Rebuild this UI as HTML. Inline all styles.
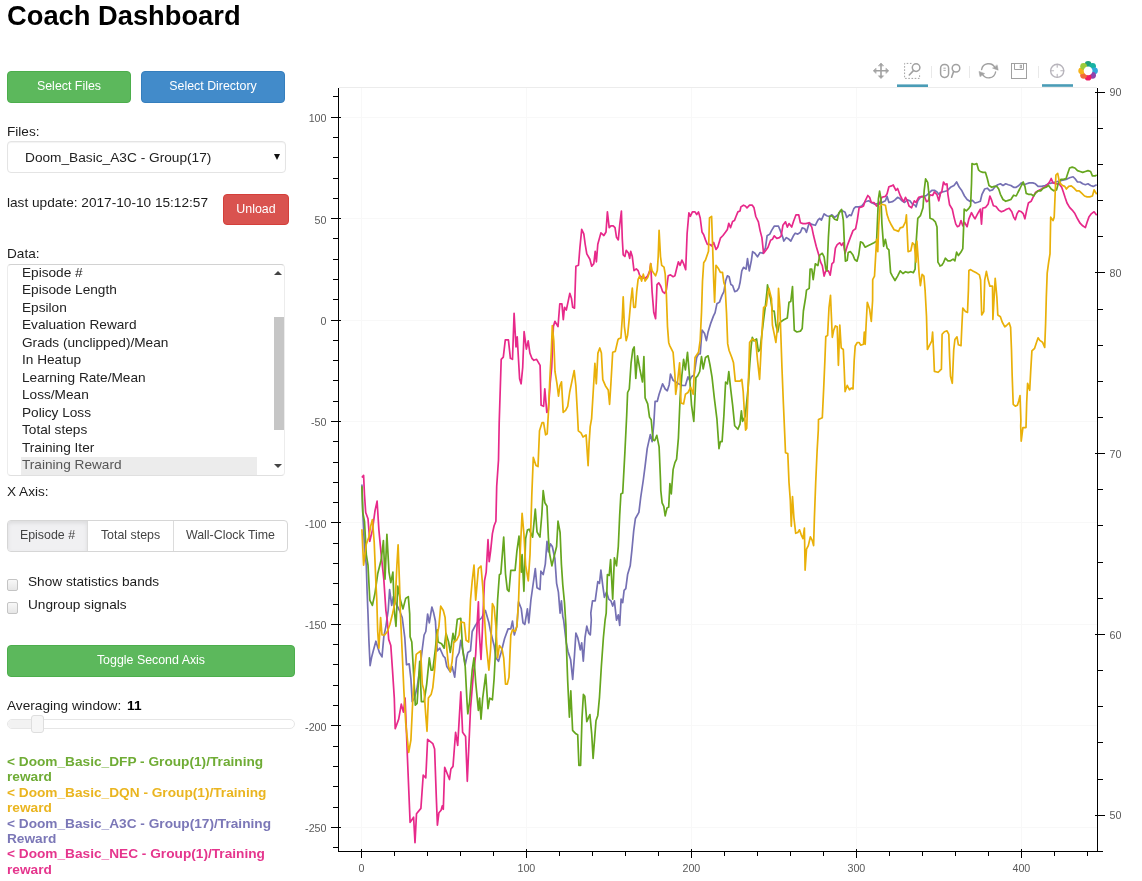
<!DOCTYPE html>
<html><head><meta charset="utf-8"><title>Coach Dashboard</title>
<style>
*{box-sizing:border-box}
html,body{margin:0;padding:0;background:#fff}
body{width:1142px;height:881px;position:relative;overflow:hidden;font-family:"Liberation Sans",Arial,sans-serif;font-size:14px;color:#1c1c1c}
.abs{position:absolute;white-space:nowrap}
h1{position:absolute;left:7px;top:0px;margin:0;font-size:27.3px;line-height:32px;font-weight:bold;color:#000;white-space:nowrap}
.btn{position:absolute;border-radius:4px;color:#fff;font-size:12.4px;text-align:center;border:1px solid transparent;white-space:nowrap}
.g{background:#5cb85c;border-color:#4cae4c}
.b{background:#428bca;border-color:#357ebd}
.r{background:#d9534f;border-color:#d43f3a}
.lbl{position:absolute;left:7px;font-size:13.6px;line-height:16px;color:#1c1c1c;white-space:nowrap}
.sel{position:absolute;left:7px;top:141px;width:279px;height:32px;border:1px solid #e4e4e4;border-radius:4px;background:#fff;box-shadow:inset 0 1px 1px rgba(0,0,0,.05)}
.sel span{position:absolute;left:17px;top:7.5px;font-size:13.7px;line-height:16px;color:#222}
.sel i{position:absolute;right:5.5px;top:11.5px;width:0;height:0;border-left:3px solid transparent;border-right:3px solid transparent;border-top:6.5px solid #111}
.list{position:absolute;left:7px;top:264px;width:278px;height:212px;border:1px solid #ececec;border-top-color:#d2d2d2;border-bottom-color:#e0e0e0;border-radius:4px;background:#fff;overflow:hidden}
.list div.it{position:absolute;left:14px;height:18px;line-height:18px;font-size:13.65px;color:#222;white-space:nowrap}
.list .selbg{position:absolute;left:13px;top:192px;width:236px;height:18px;background:#ececec}
.sb-thumb{position:absolute;left:266px;top:52px;width:11px;height:113px;background:#c6c6c6}
.tri-up{position:absolute;left:266px;top:6px;width:0;height:0;border-left:4px solid transparent;border-right:4px solid transparent;border-bottom:4px solid #444}
.tri-dn{position:absolute;left:266px;top:199px;width:0;height:0;border-left:4px solid transparent;border-right:4px solid transparent;border-top:4px solid #444}
.grp{position:absolute;left:7px;top:520px;width:281px;height:32px;border:1px solid #d6d6d6;border-radius:4px;background:#fff;overflow:hidden}
.grp div{position:absolute;top:0;height:30px;line-height:29px;font-size:12.4px;color:#444;text-align:center;border-right:1px solid #dcdcdc}
.grp div.act{background:#f0f0f2;box-shadow:inset 0 2px 4px rgba(0,0,0,.09)}
.cb{position:absolute;left:7.4px;width:11px;height:12px;border:1px solid #c4c4c4;border-radius:2px;background:linear-gradient(#f8f8f8,#e6e6e6)}
.track{position:absolute;left:7px;top:719px;width:288px;height:10px;border:1px solid #e6e6e6;border-radius:5px;background:#fff}
.track .fill{position:absolute;left:0;top:0;width:28px;height:8px;background:#f2f2f2;border-radius:4px 0 0 4px}
.handle{position:absolute;left:31px;top:715px;width:13px;height:18px;border:1px solid #dedede;border-radius:3px;background:#f6f6f6}
.leg{position:absolute;left:7px;top:754px;width:292px;font-size:13.68px;font-weight:bold;line-height:15.4px}
.leg div{white-space:normal}
</style></head>
<body>
<h1>Coach Dashboard</h1>
<div class="btn g" style="left:7px;top:71px;width:124px;height:32px;line-height:29px">Select Files</div>
<div class="btn b" style="left:141px;top:71px;width:144px;height:32px;line-height:29px">Select Directory</div>
<div class="lbl" style="top:124px">Files:</div>
<div class="sel"><span>Doom_Basic_A3C - Group(17)</span><i></i></div>
<div class="lbl" style="top:194.5px;font-size:13.65px">last update: 2017-10-10 15:12:57</div>
<div class="btn r" style="left:223px;top:194px;width:66px;height:31px;line-height:28px">Unload</div>
<div class="lbl" style="top:246px">Data:</div>
<div class="list">
<div class="selbg"></div>
<div class="it" style="top:-1.5px">Episode #</div>
<div class="it" style="top:16px">Episode Length</div>
<div class="it" style="top:33.5px">Epsilon</div>
<div class="it" style="top:51px">Evaluation Reward</div>
<div class="it" style="top:68.5px">Grads (unclipped)/Mean</div>
<div class="it" style="top:86px">In Heatup</div>
<div class="it" style="top:103.5px">Learning Rate/Mean</div>
<div class="it" style="top:121px">Loss/Mean</div>
<div class="it" style="top:138.5px">Policy Loss</div>
<div class="it" style="top:156px">Total steps</div>
<div class="it" style="top:173.5px">Training Iter</div>
<div class="it" style="top:191px;color:#555">Training Reward</div>
<div class="sb-thumb"></div><div class="tri-up"></div><div class="tri-dn"></div>
</div>
<div class="lbl" style="top:484px">X Axis:</div>
<div class="grp">
<div class="act" style="left:0;width:80px">Episode #</div>
<div style="left:80px;width:86px">Total steps</div>
<div style="left:166px;width:113px;border-right:0">Wall-Clock Time</div>
</div>
<div class="cb" style="top:578.5px"></div><div class="lbl" style="left:28px;top:574.2px;font-size:13.65px">Show statistics bands</div>
<div class="cb" style="top:601.5px"></div><div class="lbl" style="left:28px;top:596.5px;font-size:13.65px">Ungroup signals</div>
<div class="btn g" style="left:7px;top:645px;width:288px;height:32px;line-height:29px">Toggle Second Axis</div>
<div class="lbl" style="top:698px;font-size:13.65px">Averaging window: <b style="font-size:13.7px;color:#000;margin-left:2px">11</b></div>
<div class="track"><div class="fill"></div></div><div class="handle"></div>
<div class="leg">
<div style="color:#6fac35">&lt; Doom_Basic_DFP - Group(1)/Training reward</div>
<div style="color:#eab520">&lt; Doom_Basic_DQN - Group(1)/Training reward</div>
<div style="color:#7b77b7">&lt; Doom_Basic_A3C - Group(17)/Training Reward</div>
<div style="color:#e5358d">&lt; Doom_Basic_NEC - Group(1)/Training reward</div>
</div>
<svg class="abs" style="left:0;top:0" width="1142" height="881" viewBox="0 0 1142 881">
<g stroke="#f8f8f8" stroke-width="1" shape-rendering="crispEdges"><line x1="361.4" x2="361.4" y1="88" y2="851" /><line x1="526.4" x2="526.4" y1="88" y2="851" /><line x1="691.4" x2="691.4" y1="88" y2="851" /><line x1="856.4" x2="856.4" y1="88" y2="851" /><line x1="1021.4" x2="1021.4" y1="88" y2="851" /><line x1="339" x2="1097" y1="117.1" y2="117.1" /><line x1="339" x2="1097" y1="218.6" y2="218.6" /><line x1="339" x2="1097" y1="320.0" y2="320.0" /><line x1="339" x2="1097" y1="421.4" y2="421.4" /><line x1="339" x2="1097" y1="522.9" y2="522.9" /><line x1="339" x2="1097" y1="624.3" y2="624.3" /><line x1="339" x2="1097" y1="725.8" y2="725.8" /><line x1="339" x2="1097" y1="827.2" y2="827.2" /><line x1="339" x2="1097" y1="87.5" y2="87.5" stroke="#ececec"/></g>
<g>
<polyline points="361.9,484.5 362.8,512.5 364.5,547.6 366.3,565.1 367.1,591.3 368,614 368.9,640.3 370.1,665.7 371.5,657.8 373.3,650.8 375.9,641.2 377.7,647.3 379.4,652.5 382,656.9 383.8,636.8 385.9,626.3 388.2,610.5 389.6,589.5 391.7,605.3 393.4,596.5 396,603.5 399.5,610.5 402.2,617.5 404.8,637.7 406.5,664.8 409.2,663.9 410.9,678.8 412.2,701.6 414.4,698.1 417.1,687.6 419.7,670.1 422.3,649 424.1,635 425.8,631.5 427.6,614 429.3,622.8 431.9,607 433.7,613.1 435.4,621 437.2,650.8 439.8,648.2 443.3,656 445.1,657.8 446.8,666.5 450.3,671.8 452.1,666.5 454.7,677.1 456.5,657.8 459.1,652.5 460.8,640.3 462.6,649 465.2,664.8 467.8,652.5 470.5,650.8 472.2,631.5 474.9,626.3 478.4,621 481.9,617.5 485.4,610.5 488.9,622.8 490.6,631.5 494.1,645.5 495.9,657.8 498.5,661.3 501.1,652.5 504.6,638.5 508.1,628.9 510.8,628.9 512.5,621 514.3,635 516.9,626.3 518.6,601.8 521.3,608.8 523,622.8 524.8,624.5 527.4,608.8 528.8,622.8 530.9,600 535.3,568.6 537,587.8 540,589.6 540.9,571.1 543.2,574.6 545.3,564.1 547,541.3 548.4,551.8 550.5,543.9 552.3,546.5 554.9,558.8 556.6,583.3 558.4,592.1 560.1,613.1 561.4,600.8 562.8,616.6 563.6,620 566.3,642.8 568,651.5 570.6,659.4 572.7,679.5 574.5,655 575.9,633.1 577.7,637.5 578.9,642.8 580.3,649.8 581.7,642.8 583.3,661.2 585,637.5 586.8,626.1 588.7,633.1 590.3,634.9 591.3,620 590.8,613.1 592.5,600.8 595.2,600.8 597.8,581.6 599.5,583.3 600.9,570.2 602.7,585.1 604.4,597.3 606.5,592.1 608.7,599.1 610.9,600.8 612.7,606.1 614.4,600.8 616.5,620.1 618.3,614.9 619.7,625.4 621.1,599.1 622.7,602.6 624.1,590.3 625.8,588.6 627.6,574.6 630.2,565.8 631.9,550.1 633.7,530.8 635.4,518.5 638.9,512.4 640.7,497.5 643.3,480 645.1,466.1 647.2,448.6 650.3,434.6 652.1,441.6 653.8,424.1 655.1,401.3 657.3,401.3 659.1,394.3 662.6,383.8 665.2,389 667.3,390.8 669.2,384.7 670.5,374.2 673.1,380.3 675.7,382 678.4,383.8 682.7,385.5 685.4,385.5 688,376.8 689.7,380.3 691.5,376.8 694.1,375 696.7,357.5 698.5,354 700.2,354 702,330.1 704.6,333.6 706.4,340.6 708.1,331.9 710.8,323.1 713.4,316.1 715.1,312.6 716.9,303.8 719.5,302.1 722.1,295.1 723.9,291.6 725.6,281.1 727.4,275.8 729.1,276.7 730.9,284.6 732.6,285.4 734.7,291.6 737,290.7 738.8,288.1 740,282.8 740,283.1 741.8,270.8 743.5,267.3 746.1,269.1 747.5,258.6 749.3,270.8 751.4,260.3 752.6,251.6 754.9,253.3 757.5,256.8 760.1,252.5 762.8,253.3 765.4,248.1 767.1,235.8 769.8,234.1 771.5,230.6 774.2,226.2 778.5,226.2 780.3,230.6 782.9,237.6 783.8,241.1 786.4,237.6 789,239.3 790.8,241.1 793.4,235.8 795.2,233.2 797.8,234.1 800.4,232.3 802.2,227.9 804.8,228.8 806.5,232.3 809.2,222.7 811.8,224.4 815.3,225.3 817.9,220.1 819.7,218.3 821.4,220.1 824.1,213.9 826.7,215.7 829.3,216.5 831.9,214.8 834.6,217.4 838.1,214.8 840.7,210.4 843.3,211.3 845.1,212.2 846.8,217.4 849.5,214.8 851.2,215.7 853.8,208.7 855.6,206.9 859.1,206.9 861.7,206 865.2,201.7 868.7,200.8 871.3,202.5 874.9,204.3 878.4,203.4 881.9,202.5 885.4,200.8 887.1,196.4 888.9,202.5 892.4,201.7 895,199.9 897.6,197.3 899.4,198.2 902,200.8 904.6,202.5 907.3,199.9 909.9,200.8 912.5,204.3 915.1,205.2 916,206.9 917.8,200.8 920.4,197.3 923.9,196.4 926.5,195.5 929.1,192.9 931.8,190.3 934.4,190.3 937,192 940,195.5 940,192.5 943.5,191.7 947,190.8 950.5,187.3 954,185.5 956.6,182 959.3,187.3 961.9,190.8 964.5,196 967.1,199.5 969.8,201.3 972.4,200.4 975,203 977.7,202.2 980.3,201.3 982,194.3 984.7,189 987.3,188.2 989.9,190.8 992.5,189.9 995.2,186.4 997.8,184.7 1000.4,183.8 1003,185.5 1005.7,183.8 1008.3,184.7 1010.9,185.5 1013.6,187.3 1016.2,187.3 1018.8,185.5 1021.4,182.9 1024.1,184.7 1026.7,183.8 1029.3,182.9 1032.8,182.9 1035.4,183.8 1038.1,186.4 1041.6,186.4 1045.1,185.5 1048.6,183.8 1052.1,182.9 1055.6,182 1059.1,181.2 1062.6,180.3 1066.1,179.4 1069.6,177.7 1073.1,176.8 1074.9,178.5 1077.5,182 1080.1,182 1082.7,183.8 1085.4,184.7 1088,183.8 1090.6,185.5 1093.2,186.4 1096.7,184.7" fill="none" stroke="#7570b3" stroke-width="1.7" stroke-linejoin="round" stroke-linecap="butt"/>
<polyline points="361.9,477.5 363.6,475.4 364.5,495 365.7,512.5 368,518.7 369.8,541.4 372.4,530.1 375,510.8 377.1,501.2 378.9,530.1 381.2,554.6 383.8,579.1 385.9,610.6 387.3,621 388.7,639.4 390.8,645.5 392.5,670.1 394.3,698.1 395.2,728.7 398.7,719.1 401.3,704.2 403.4,712.1 405.1,698.1 406.5,733.1 407.4,756.8 410.1,822.4 413.6,817.2 415,842.6 416.5,813.7 420.9,808.4 423.2,775.2 425.8,777.8 427.6,739.3 432.8,743.6 434.6,748.9 436.3,797.1 437.4,825.1 438.9,812.8 441.1,810.2 442.3,805.8 443.3,809.3 444.7,767.3 449.5,779.5 450.9,769 453,766.4 455.6,732.3 457.7,745.4 460.8,691.9 462.6,732.2 465.6,736.6 467.3,781.3 470.5,708.6 473.1,677.1 475.7,654.3 477.5,617.5 478.4,601.8 479.2,631.5 481,659.5 482.2,635 483.6,600.1 484.5,580.8 486.2,572.1 488,539.7 489.2,561.6 490.6,551.1 492.4,533.6 494.1,525.7 495.9,521.3 496.7,486.3 498.5,460 499.2,422.6 501.2,359.3 503.3,357.2 505.3,339.9 508.4,339.9 510.4,358.3 512.5,359.3 514.1,313.3 516,347 517.2,336.8 518.6,361.3 519.6,378.7 521.1,383.8 522.7,367.5 524.1,331.7 526.4,349.1 528.2,340.9 529.9,353.1 531.9,358.3 533.9,360.3 536.6,359.3 540.1,365.4 541.1,405.3 543.6,406.3 544.8,388.9 546.8,412.4 548.3,410.4 550.3,381.8 551.7,367.5 553.4,326.6 554.9,321.3 558,326.6 559.8,303.8 561.9,303.8 563.3,319.6 564.5,307.3 566.3,310 568,302.1 569.8,293.3 571.5,298.6 572.7,307.3 574.5,308.2 575.9,266.2 578.5,265.3 579.9,247.8 581.7,229.4 583.8,233.8 585.2,244.3 586.8,253.9 589.9,259.2 591.7,266.2 593.8,263.6 595.2,251.3 596.4,261.8 597.8,244.3 600.9,232.9 603.9,235.5 606,232 607.4,211.9 609.2,227.7 610.9,225.9 613.2,225.9 615,227.7 616.5,237.3 618.3,239.9 619.7,225 621.4,211 622.3,239 623.2,254.8 624.9,256.5 626.2,250.4 628.4,253 629.7,258.3 630.7,251.3 632.3,256.5 634,270.6 636.3,268.8 638.1,270.6 639.8,275.8 642.5,277.6 645.1,278.4 647.7,275.8 649.8,270.6 650.7,263.6 652.1,291.6 653.8,312.6 655.6,318.7 657,284.6 658.7,282.8 660.8,286.3 662.6,291.6 664.7,293.3 666.4,289.8 668.2,275.8 670.5,274.9 673.1,276.7 674.9,275.8 676.6,268.8 678.4,261.8 680.1,265.3 681.9,260.1 683.6,263.6 685.7,269.7 687.1,233.8 688.9,212.8 690.3,216.3 692.4,211.9 695,211.9 696.7,214.5 698.5,211.9 700.2,218 702,232 703.7,234.7 705.5,239.9 707.3,244.3 709.9,244.3 711.6,246 713.7,242.5 716,249.5 717.8,246.9 720.4,238.2 723,235.5 725.6,232 727.4,229.4 728.8,223.3 730.5,227.7 732.6,221.5 734.4,220.6 736.1,216.3 737.9,211.9 740,211 740.9,206.9 743.5,205.2 745.3,206 747,207.8 749.6,205.2 752.3,205.2 754,207.8 755.8,216.5 758.4,221.8 760.1,230.6 761.9,237.6 763.6,253.3 766.3,249.8 768,247.2 770.6,240.2 772.4,239.3 774.2,235.8 776.8,238.4 779.4,237.6 781.2,235.8 782.9,225.3 785.5,221.8 787.3,227.1 789,223.6 791.7,227.1 793.4,221.8 796,214.8 798.7,214.8 800.4,222.7 803,223.6 805.7,223.6 809.2,222.7 811.8,227.1 813.6,235.8 816.2,246.3 818.8,255.1 820.6,262.1 822.3,265.6 824.1,276.1 825.8,270.8 828.4,270.8 830.2,275.2 831.9,263.8 833.7,262.1 835.4,248.1 837.2,244.6 839.8,242.8 841.6,245.4 843.3,242.8 845.1,253.3 847.7,244.6 850.3,237.6 853,230.6 855.6,228.8 857.3,220.1 859.1,207.8 861.7,206.9 863.5,206 865.2,200.8 867.8,195.5 869.6,197.3 871.3,202.5 874,202.5 876.6,206 879.2,204.3 881.9,197.3 885.4,196.4 887.1,193.8 888.9,186.8 891.5,185.9 893.2,185 895.9,190.3 897.6,188.5 900.2,195.5 902,199 903.7,201.7 905.5,197.3 907.3,200.8 909,206 911.6,207.8 914.3,200.8 916,202.5 918.6,197.3 922.1,196.4 924.8,197.3 926.5,201.7 928.3,200.8 930,194.7 932.6,195.5 934.4,192 937,194.7 938.8,200.8 940,195.5 940,194.3 941.8,191.7 943.5,182 945.3,184.7 947,183.8 947.9,194.3 949.6,204.8 952.3,209.2 954,217.1 955.8,224.1 957.5,226.7 959.3,225.8 961,220.6 962.8,225.8 964.5,222.3 967.1,226.7 968.9,218.8 971.5,212.7 973.3,216.2 975,218.8 977.7,213.6 980.3,209.2 981.5,224.1 982.6,208.3 985.5,207.4 988.2,203.9 989.9,196 991.7,200.4 993.4,205.7 996,206.5 998.7,210.1 1001.3,211.8 1003.9,210.9 1006.5,209.2 1009.2,208.3 1011.8,211.8 1013.6,217.1 1015.3,219.7 1017.1,213.6 1018.8,210.9 1021.4,211.8 1023.2,213.6 1024.9,218.8 1026.7,210.1 1028.4,203 1031.1,201.3 1032.8,197.8 1035.4,192.5 1038.1,190.8 1041.6,189 1044.2,187.3 1046.8,185.5 1049.5,182 1051.2,178.5 1053,182.9 1055.6,183.8 1059.1,183.8 1061.7,187.3 1063.5,192.5 1065.2,197.8 1067,203 1069.6,207.4 1072.2,210.1 1074.9,213.6 1077.5,218.8 1080.1,223.2 1082.7,225.8 1085.4,227.6 1087.1,222.3 1088.9,217.1 1091.5,213.6 1094.1,211.8 1096.7,215.3" fill="none" stroke="#e7298a" stroke-width="1.7" stroke-linejoin="round" stroke-linecap="butt"/>
<polyline points="361.9,486.3 362.8,512.5 364.5,521.3 366.3,554.6 368,565.1 369.8,600.1 372.4,605.4 375,593.1 377.7,573.8 381.2,559.8 383.4,540.6 385,579.1 386.9,534.4 389,572.1 390.8,582.6 392.9,572.1 394.3,610.6 396,626.3 397.8,586.1 400.4,600.1 403,608.9 405.7,598.4 408.3,596.6 409.7,613.9 410.1,636.8 411.8,642 413.6,673.6 415.3,705.1 417.1,703.3 419.7,661.3 421.4,701.6 424.1,701.6 426.7,684.1 429.3,657.8 431.1,670.1 432.8,670.1 435.4,649 437.2,629.8 438.1,642 441.6,643.8 444.2,648.2 446,633.3 448.6,642 450.3,652.5 453,633.3 454.7,642 457.3,619.3 460.8,618.4 462.6,649 465.2,666.5 467,701.6 467.8,713.8 469.6,701.6 472.2,670.1 474,657.8 475.7,682.3 478.4,710.3 479.6,698.1 481,719.1 482.7,698.1 485.7,674.4 488,708.6 489.7,698.1 492.4,699.8 494.1,678.8 495.9,643.8 497.6,600 499.4,574.7 500.8,573.8 503.7,537.1 505.5,573.8 507.3,589.6 509,591.3 510.8,570.3 515.1,570.3 516.9,551.1 519,536.2 521.3,572.1 522.1,554.6 523.9,591.3 525.6,538.8 527.4,530.1 529.1,529.2 532.6,537.1 535.3,509 537,531.8 540,537.1 540,536 541.8,515 543.2,490.5 544.9,502.8 547,506.3 548.4,537.8 549.6,553.6 551.9,565.8 554,557.1 556.6,546.5 558,521.2 560.1,532.5 561.4,564.1 562.8,585.1 564.5,602.6 565.9,625.4 566.3,642.8 567.7,681.3 569.4,717.2 570.8,690.9 572.6,730.3 575.9,733.8 577.7,734.7 578.9,765.4 580.6,765.4 582,718.1 583.4,694.4 584.8,696.2 586.8,721.6 589.9,714.6 591.7,733.8 593.1,758.4 594.6,739.1 596,720.7 597.8,715.4 599.5,697.1 601.3,667.3 603.4,637.5 605.1,620 606.2,613.1 607.4,574.6 609.2,575.4 610.6,559.7 612.7,599.1 614.4,557.9 616.5,565.8 618.3,546.5 619.7,515 620.9,494 622.7,493.1 624.9,452.1 626.7,415.3 627.6,392.5 629.3,389 631.1,362.8 632.8,349.6 634.2,347 635.8,378.5 637.5,355.8 639.8,368.9 642.5,382 643.9,356.6 645.1,397.8 647.7,403.9 649.5,417.1 651.2,419.7 653,439.8 654.7,440.7 656.8,435.4 659.1,446.8 660.5,480.1 660.8,490.5 662.1,502.8 663.8,506.3 665.2,515.9 667,508 668.7,507.1 669.9,483.5 671.3,494 673.1,469.6 674.9,462.6 676.6,459.1 678.4,438.1 680.1,397.8 681.9,375 683.6,359.3 685.4,369.8 687.5,352.3 689.7,378.5 691.5,404.8 693.8,421.4 695.9,377.7 697.6,375.9 699.7,371.5 701.5,356.6 703.2,368.9 705.5,357.5 708.1,355.8 709.9,364.5 712,376.8 714.3,397.8 716.9,418.8 719,448.6 720.4,441.6 722.1,441.6 723.9,415.3 725.6,382 727.4,383.8 728.8,371.5 730.9,390.8 732.6,404.8 734.7,425.8 737.9,429.3 740,424.1 740,424 741.4,410.8 742.6,421.3 745.3,416.1 748.1,388.1 749.8,363.6 751.2,346 752.3,337.3 754,340.8 756.6,339 758.4,351.3 760.1,349.5 761.9,333.8 763.6,319.8 765.4,305.8 767.1,290 767.5,284.9 770.6,298.8 772.4,311 774.2,311 775.9,325 777.7,332 779.4,323.3 781.2,321.5 783.8,319.8 787.3,318 789,302.3 790.8,301.4 792.5,286.6 793.1,302.3 794.3,330.3 796.9,332 800.4,331.2 802.2,328.5 803.4,311 805.7,297 806.5,290.1 809.2,288.4 810.1,269.1 811.8,269.1 813.2,279.6 815.3,263.8 817.9,265.6 819.7,255.1 822.3,253.3 824.1,256.8 825.8,269.1 827,270.8 828.4,237.6 829.7,216.5 831.9,215.7 834.6,219.2 837.2,220.1 838.9,213 841.6,209.5 843.3,220.1 844.6,248.1 845.4,261.2 847.2,260.3 848.2,252.5 850.3,251.6 853,255.1 854.7,259.5 857,261.2 858.7,255.1 860.5,241.9 862.6,242.8 865.2,247.2 867,246.3 870.5,244.6 874,242.8 876.6,241.1 878.4,199 879.6,191.2 881,199 881.9,223.6 883.6,246.3 885.4,239.3 887.1,248.1 888.9,249.8 890.6,272.6 892.4,276.1 895,280.5 897.6,276.1 900.2,270.8 902.9,273.5 905.5,271.7 908.1,272.6 910.8,271.7 913.4,272.6 915.1,269.1 916,244.6 917.8,218.3 920.4,215.7 923,207.8 924.2,190.3 925.6,178.9 927.7,182.4 929.1,195.5 930,218.3 932.6,219.2 935.3,221.8 937,227.1 937.9,262.1 940,265.6 940,266.1 941.8,265.2 943.5,262.6 945.3,258.2 947.9,260.8 950.5,260.8 953.1,259.1 954.9,260.8 956.6,252.1 958.4,255.6 961,252.1 962.8,248.6 963.6,227.6 964.2,209.2 966.3,210.9 968.9,208.3 970.6,205.7 971.5,183.8 972,163.6 974.2,164.5 976.8,163.6 978.5,169.8 980.3,171.5 982.9,172.4 985.5,172.4 987.3,178.5 989,185.5 991.7,187.3 994.3,186.4 996.9,186.4 998.7,189 1000.4,194.3 1003,199.5 1005.7,201.3 1008.3,200.4 1010.9,199.5 1013.6,195.2 1016.2,196 1017.9,192.5 1019.7,189 1021.4,185.5 1023.2,182 1024.9,186.4 1026.2,193.4 1028.4,194.3 1031.1,194.3 1033.7,196 1035.4,193.4 1038.1,190.8 1040.7,190.8 1043.3,188.2 1046,187.3 1048.6,185.5 1051.2,189 1053.8,190.8 1056.5,189.9 1058.2,183.8 1060.8,179.4 1063.5,179.4 1066.1,178.5 1067.8,173.3 1069.6,168 1072.2,167.1 1074.9,168 1077.5,170.6 1080.1,171.5 1082.7,172.4 1085.4,171.5 1088,170.6 1090.6,171.5 1092.4,175.9 1095,175.9 1096.7,175" fill="none" stroke="#66a61e" stroke-width="1.7" stroke-linejoin="round" stroke-linecap="butt"/>
<polyline points="361.9,529.2 363.6,565.1 366.3,544.1 368.9,537.1 370.6,526.5 372.4,519.5 374.2,542.3 375.9,582.6 376.8,599.9 377.7,631.5 378.9,648.2 380.6,617.5 382,635 384.7,635 387.3,631.5 389.9,624.5 392.5,614 395.2,601.8 396.9,565.1 398.1,544.9 399.5,582.6 400.4,613.9 402.2,652.5 403.9,691.1 405.7,722.6 408.7,752.4 410.9,740.1 412.7,701.6 414.4,673.6 416.2,654.3 420.6,650.8 422.3,684.1 424.1,691.1 425.8,715.6 427,731.3 428.4,698.1 431.1,694.6 432.8,687.6 434.6,670.1 436,652.5 437.2,635 438.9,626.3 440.7,606.1 443.3,610.5 445.1,617.5 446.8,649 448.6,666.5 450.3,671.8 452.1,661.3 453.8,642 456.5,640.3 459.1,635 460.8,621.9 464.3,622.8 466.1,640.3 468.7,642 470.5,600 472.2,580.8 474,565.1 475.7,600.1 478.4,568.6 481,566 482.7,586.1 483.6,600.1 484.5,617.5 486.2,643.8 488.9,670.1 490.6,649 492.4,603.5 494.1,607 495.9,626.3 497.6,657.8 499.4,645.5 502,649 503.7,657.8 505.5,684.1 507.3,684.1 509,677.1 510.8,635 512.5,629.8 515.1,631.5 516.9,626.3 518.6,600 520.4,547.6 522.1,513.4 523.9,533.6 525.6,565.1 528.3,580.8 530,554.6 531.8,495 533.3,457.4 536,465.6 538,466.6 539.5,430.8 542.1,422.6 543.6,422.6 545.6,434.9 547.2,433.9 548.3,414.5 549.7,381.8 551.3,351.1 552.3,325.6 553.8,340.9 555,371.5 557,383.8 558.5,396.1 559.9,385.9 561.5,381.8 563.2,412.4 565.6,410.4 567.7,406.3 569.7,392 571.8,381.8 574.2,370.5 575.9,385.9 577.5,414.5 578.3,430.8 581,432.9 583,437 586.1,434.9 588.1,465.6 589.1,443.1 590.2,426.7 591.6,418.6 593.2,392 594.9,363.4 596.3,383.8 597.9,353.1 599.8,348 601.4,353.1 602.8,379.7 605.5,385.9 608.2,389.9 609.6,404.3 610.9,383.8 612.7,352.3 615.3,351.4 617.9,340 618.5,338.9 620.9,338 622.3,317.8 623.2,296.8 624.4,326.6 626.2,340.6 627.6,335.4 629.3,317.8 630.7,302.1 632.3,288.1 633.7,307.3 635.4,307.3 636.7,291.6 638.1,279.3 639.8,275.8 641.6,281.1 643.3,274.1 645.1,281.1 647.7,277.6 649.5,272.3 650.7,263.6 652.1,270.6 653.8,273.2 655.6,275.8 657.3,270.6 658.2,256.5 659.1,230.3 660.5,256.5 661.7,265.3 664,267.1 665.2,274.1 666.4,295.1 667.5,326.6 668.7,342.4 669.6,345.3 673.1,352.3 674.9,375 675.7,394.3 677.5,382 679.6,362.8 681,403 683.6,403.9 685.4,394.3 688,392.5 690.6,387.3 693.2,394.3 695,357.5 698.5,352.3 700.2,340 701.5,312.6 702.5,281.1 703.7,262.7 705.5,260.1 707.3,254.8 708.5,251.3 709.5,218 711.6,216.3 712.5,242.5 713.7,281.1 714.6,302.1 716,265.3 718.6,268.8 720.4,272.3 722.5,272.3 723.9,282.8 725.1,286.3 726.5,312.6 727.7,343.9 729.1,350.5 731.8,357.5 733.5,362.8 735.3,381.2 740,381.2 741.8,379.3 743.2,391.6 744.4,412.6 745.6,430.1 746.7,428.4 747.9,395.1 748.8,368.8 749.6,342.5 751.4,339.9 753.1,339 755.8,341.7 757.5,360.1 759.6,379.3 761,351.3 762.4,325 763.6,307.5 766.3,305.8 767.7,295.3 768.9,288.4 771.5,298.8 772.4,325 774.2,333.8 775.9,342.5 777.7,325 778.5,288.4 779.9,307.5 780.8,333.8 782,368.8 783.4,403.8 784.7,433.6 785.5,452.8 787.8,453.6 789,482.5 790.3,500.1 791.3,526.3 792.5,496.5 793.9,517.6 795.7,533.3 797.8,532.5 799.5,529.8 801.3,535.1 803,538.6 804.4,528.1 805.1,570.1 806.5,549.1 808.3,545.6 810.4,536.8 812.2,540.3 813.6,545.6 814.4,517.6 815.7,482.5 817.1,451 818.3,430 818.5,419.6 822.3,417.8 823.7,388.1 824.9,360.1 825.8,336.4 827.6,335.5 829,307.5 830.5,295.3 831.4,316.3 832.3,337.3 833.7,330.3 835.4,325.9 837.2,326.8 838.4,365.3 839.8,325 841.2,347.8 843.3,349.5 844.2,368.8 845.1,391.6 847.2,385.4 849.5,389.8 851.2,388.1 853,388.9 854.2,360.1 855.2,346 857.3,342.5 859.1,342.5 860.8,345.2 863.5,344.3 864.3,332 865.2,344.3 866.1,325 867.3,302.3 869.6,309.3 871.3,321.5 872.6,300.5 872.7,279.6 874.5,276.1 875.7,255.1 876.6,239.3 877.8,251.6 878.7,225.3 880.1,206 881.9,204.3 885.4,205.2 887.1,214.8 888.9,220.1 891.5,225.3 894.1,229.7 896.7,230.6 898.5,231.4 900.2,227.9 902.9,227.1 905.5,221.8 906.4,214.8 907.3,234.1 908.1,251.6 910.8,250.7 912.5,242.8 914.3,244.6 916,262.1 916.9,241.1 917.8,253.3 919,272.6 920.4,285.7 922.1,274.3 923.9,276.1 925.1,290.1 926.5,316.3 927.4,349.5 930,344.3 931.8,340.8 932.6,332 933.5,349.5 934.4,371.4 937.9,372.3 940,370.6 940,370.2 941.4,369.3 942.1,334.3 944.4,331.7 947,330.8 948.8,334.3 949.6,357.1 950.5,376.3 952.3,383.3 953.7,350.1 954.9,339.5 957,336.9 958.4,344.8 961,345.7 961.9,325.5 962.8,308 965.4,311.5 967.5,312.4 968.4,290.5 968.9,270.5 970.6,269.6 973.3,271.3 976.8,273.1 979.4,274.9 980.6,280 981.7,315 983.8,311.5 984.7,280.1 986.4,271.3 988.2,280.1 989.9,286.2 992.5,286.2 992.9,319.4 995.2,278.4 996.9,297.5 997.8,315 1000.4,316.8 1002.2,322 1004.8,326.9 1006.5,325.5 1009.2,322.9 1010.6,327.3 1011.5,350.1 1012.2,376.3 1013.2,404.3 1015.3,406.1 1017.4,405.2 1018.8,400.8 1020,395.6 1020.9,420.1 1020.7,426 1021.2,441.2 1022.9,427.6 1026,427.6 1026.7,402.6 1027.6,383.3 1029.7,390.3 1030.7,371.1 1031.9,350.9 1034.6,348.3 1036.3,343 1038.1,337.8 1039.8,340.4 1042.5,342.2 1044.7,347.4 1045.6,323.8 1046.3,297.5 1047.2,273.1 1048.6,262.6 1050,253.8 1050.7,217.1 1053,220.6 1054.2,217.1 1055.2,192.5 1055.9,175 1057.7,173.3 1059.1,180.3 1060.8,183.8 1062.6,185.5 1064.7,186.4 1066.4,189 1068.7,186.4 1071.3,185.9 1074,188.2 1076.6,190.8 1079.2,190.8 1081.9,193.4 1084.5,196 1087.1,196.9 1089.7,196.9 1092.4,196 1094.1,189.9 1096.7,194.3" fill="none" stroke="#e9b009" stroke-width="1.7" stroke-linejoin="round" stroke-linecap="butt"/>
</g>
<g stroke="#000" stroke-width="1" shape-rendering="crispEdges"><line x1="338.5" x2="338.5" y1="87.5" y2="852"/><line x1="338" x2="1098" y1="851.5" y2="851.5"/><line x1="1097.5" x2="1097.5" y1="87.5" y2="852"/><line x1="361.4" x2="361.4" y1="849" y2="858"/><line x1="394.4" x2="394.4" y1="851" y2="856"/><line x1="427.4" x2="427.4" y1="851" y2="856"/><line x1="460.4" x2="460.4" y1="851" y2="856"/><line x1="493.4" x2="493.4" y1="851" y2="856"/><line x1="526.4" x2="526.4" y1="849" y2="858"/><line x1="559.4" x2="559.4" y1="851" y2="856"/><line x1="592.4" x2="592.4" y1="851" y2="856"/><line x1="625.4" x2="625.4" y1="851" y2="856"/><line x1="658.4" x2="658.4" y1="851" y2="856"/><line x1="691.4" x2="691.4" y1="849" y2="858"/><line x1="724.4" x2="724.4" y1="851" y2="856"/><line x1="757.4" x2="757.4" y1="851" y2="856"/><line x1="790.4" x2="790.4" y1="851" y2="856"/><line x1="823.4" x2="823.4" y1="851" y2="856"/><line x1="856.4" x2="856.4" y1="849" y2="858"/><line x1="889.4" x2="889.4" y1="851" y2="856"/><line x1="922.4" x2="922.4" y1="851" y2="856"/><line x1="955.4" x2="955.4" y1="851" y2="856"/><line x1="988.4" x2="988.4" y1="851" y2="856"/><line x1="1021.4" x2="1021.4" y1="849" y2="858"/><line x1="1054.4" x2="1054.4" y1="851" y2="856"/><line x1="1087.4" x2="1087.4" y1="851" y2="856"/><line x1="333" x2="339" y1="847.5" y2="847.5"/><line x1="331" x2="341" y1="827.2" y2="827.2"/><line x1="333" x2="339" y1="807.0" y2="807.0"/><line x1="333" x2="339" y1="786.7" y2="786.7"/><line x1="333" x2="339" y1="766.4" y2="766.4"/><line x1="333" x2="339" y1="746.1" y2="746.1"/><line x1="331" x2="341" y1="725.8" y2="725.8"/><line x1="333" x2="339" y1="705.5" y2="705.5"/><line x1="333" x2="339" y1="685.2" y2="685.2"/><line x1="333" x2="339" y1="664.9" y2="664.9"/><line x1="333" x2="339" y1="644.6" y2="644.6"/><line x1="331" x2="341" y1="624.3" y2="624.3"/><line x1="333" x2="339" y1="604.1" y2="604.1"/><line x1="333" x2="339" y1="583.8" y2="583.8"/><line x1="333" x2="339" y1="563.5" y2="563.5"/><line x1="333" x2="339" y1="543.2" y2="543.2"/><line x1="331" x2="341" y1="522.9" y2="522.9"/><line x1="333" x2="339" y1="502.6" y2="502.6"/><line x1="333" x2="339" y1="482.3" y2="482.3"/><line x1="333" x2="339" y1="462.0" y2="462.0"/><line x1="333" x2="339" y1="441.7" y2="441.7"/><line x1="331" x2="341" y1="421.4" y2="421.4"/><line x1="333" x2="339" y1="401.2" y2="401.2"/><line x1="333" x2="339" y1="380.9" y2="380.9"/><line x1="333" x2="339" y1="360.6" y2="360.6"/><line x1="333" x2="339" y1="340.3" y2="340.3"/><line x1="331" x2="341" y1="320.0" y2="320.0"/><line x1="333" x2="339" y1="299.7" y2="299.7"/><line x1="333" x2="339" y1="279.4" y2="279.4"/><line x1="333" x2="339" y1="259.1" y2="259.1"/><line x1="333" x2="339" y1="238.8" y2="238.8"/><line x1="331" x2="341" y1="218.6" y2="218.6"/><line x1="333" x2="339" y1="198.3" y2="198.3"/><line x1="333" x2="339" y1="178.0" y2="178.0"/><line x1="333" x2="339" y1="157.7" y2="157.7"/><line x1="333" x2="339" y1="137.4" y2="137.4"/><line x1="331" x2="341" y1="117.1" y2="117.1"/><line x1="333" x2="339" y1="96.8" y2="96.8"/><line x1="1097" x2="1103" y1="851.4" y2="851.4"/><line x1="1095" x2="1105" y1="815.2" y2="815.2"/><line x1="1097" x2="1103" y1="779.0" y2="779.0"/><line x1="1097" x2="1103" y1="742.9" y2="742.9"/><line x1="1097" x2="1103" y1="706.7" y2="706.7"/><line x1="1097" x2="1103" y1="670.6" y2="670.6"/><line x1="1095" x2="1105" y1="634.4" y2="634.4"/><line x1="1097" x2="1103" y1="598.2" y2="598.2"/><line x1="1097" x2="1103" y1="562.1" y2="562.1"/><line x1="1097" x2="1103" y1="525.9" y2="525.9"/><line x1="1097" x2="1103" y1="489.8" y2="489.8"/><line x1="1095" x2="1105" y1="453.6" y2="453.6"/><line x1="1097" x2="1103" y1="417.4" y2="417.4"/><line x1="1097" x2="1103" y1="381.3" y2="381.3"/><line x1="1097" x2="1103" y1="345.1" y2="345.1"/><line x1="1097" x2="1103" y1="309.0" y2="309.0"/><line x1="1095" x2="1105" y1="272.8" y2="272.8"/><line x1="1097" x2="1103" y1="236.6" y2="236.6"/><line x1="1097" x2="1103" y1="200.5" y2="200.5"/><line x1="1097" x2="1103" y1="164.3" y2="164.3"/><line x1="1097" x2="1103" y1="128.2" y2="128.2"/><line x1="1095" x2="1105" y1="92.0" y2="92.0"/></g>
<g font-family="Liberation Sans, Arial, sans-serif" font-size="10.7" fill="#5a5a5a"><text x="361.4" y="872" text-anchor="middle">0</text><text x="526.4" y="872" text-anchor="middle">100</text><text x="691.4" y="872" text-anchor="middle">200</text><text x="856.4" y="872" text-anchor="middle">300</text><text x="1021.4" y="872" text-anchor="middle">400</text><text x="326.5" y="122.1" text-anchor="end">100</text><text x="326.5" y="223.6" text-anchor="end">50</text><text x="326.5" y="325.0" text-anchor="end">0</text><text x="326.5" y="426.4" text-anchor="end">-50</text><text x="326.5" y="527.9" text-anchor="end">-100</text><text x="326.5" y="629.3" text-anchor="end">-150</text><text x="326.5" y="730.8" text-anchor="end">-200</text><text x="326.5" y="832.2" text-anchor="end">-250</text><text x="1109.5" y="96.1" text-anchor="start">90</text><text x="1109.5" y="276.9" text-anchor="start">80</text><text x="1109.5" y="457.7" text-anchor="start">70</text><text x="1109.5" y="638.5" text-anchor="start">60</text><text x="1109.5" y="819.3" text-anchor="start">50</text></g>
<g id="toolbar" fill="none" stroke="#a1a1a1" stroke-width="1.6" stroke-linecap="round" stroke-linejoin="round">
<!-- pan -->
<g transform="translate(881,70.8)">
<path d="M-5.2,0H5.2M0,-5.2V5.2"/>
<path d="M-2.4,-5.2L0,-7.8L2.4,-5.2ZM-2.4,5.2L0,7.8L2.4,5.2ZM-5.2,-2.4L-7.8,0L-5.2,2.4ZM5.2,-2.4L7.8,0L5.2,2.4Z" fill="#a1a1a1" stroke-width="0.6"/>
</g>
<!-- box zoom -->
<g>
<path d="M911.5,63.4H904.6V78.4H919.6V73.5" stroke-width="1" stroke-dasharray="1.6 1.6" stroke-linecap="butt"/>
<circle cx="916.1" cy="67.6" r="3.8" stroke-width="1.5"/>
<path d="M913.4,70.6L909.3,75"/>
</g>
<!-- wheel zoom -->
<g>
<rect x="940.6" y="64.4" width="8" height="13" rx="3.6" ry="3.8" stroke-width="1.5"/>
<path d="M943.8,68.2h1.6M943.8,70.4h1.6" stroke-width="0.9"/>
<circle cx="956" cy="68.3" r="3.8" stroke-width="1.5"/>
<path d="M953.6,71.4L951.6,77.2"/>
</g>
<!-- reset -->
<g transform="translate(988.6,70.8)">
<path d="M-7,-1.2A7.1,7.1 0 0 1 6.4,-3" stroke-width="1.4"/>
<path d="M7,1.2A7.1,7.1 0 0 1 -6.4,3" stroke-width="1.4"/>
<path d="M4.2,-2.6L9.6,-0.6L8.6,-5.6Z" fill="#a1a1a1" stroke-width="0.5"/>
<path d="M-4.2,2.6L-9.6,0.6L-8.6,5.6Z" fill="#a1a1a1" stroke-width="0.5"/>
</g>
<!-- save -->
<g stroke-width="1" stroke-linecap="butt" stroke-linejoin="miter">
<rect x="1011.5" y="63.5" width="15" height="15"/>
<path d="M1014.5,63.5V69.5H1023.5V63.5"/>
<rect x="1020.2" y="65.2" width="1.4" height="2.6" stroke-width="0.8"/>
</g>
<!-- hover -->
<g stroke="#b8b5bc" stroke-width="1.4">
<circle cx="1057.2" cy="70.8" r="6.6"/>
<path d="M1057.2,64.2v3M1057.2,77.4v-3M1050.6,70.8h3M1063.8,70.8h-3" stroke-width="1.1"/>
</g>
<!-- separators -->
<g stroke="#e9e9e9" stroke-width="1" stroke-linecap="butt" shape-rendering="crispEdges">
<path d="M931.5,66V78M969.5,66V78M1038.5,66V78"/>
</g>
<!-- active bars -->
<g stroke="none" fill="#4a9cb6">
<rect x="897" y="84.4" width="31" height="2.6"/>
<rect x="1042" y="84.2" width="31" height="2.6"/>
</g>
<!-- bokeh logo -->
<g transform="translate(1088.1,70.8)" stroke="none">
<circle cx="0" cy="-6.4" r="3.4" fill="#1f9f7a"/>
<circle cx="4.5" cy="-4.5" r="3.4" fill="#17b3a3"/>
<circle cx="6.4" cy="0" r="3.4" fill="#2fa8dc"/>
<circle cx="4.5" cy="4.5" r="3.4" fill="#8e44ad"/>
<circle cx="0" cy="6.4" r="3.4" fill="#ec1e62"/>
<circle cx="-4.5" cy="4.5" r="3.4" fill="#f26b3a"/>
<circle cx="-6.4" cy="0" r="3.4" fill="#f6b31c"/>
<circle cx="-4.5" cy="-4.5" r="3.4" fill="#9ccb3b"/>
<circle cx="0" cy="0" r="4.4" fill="#fff"/>
</g>
</g>

</svg>
</body></html>
